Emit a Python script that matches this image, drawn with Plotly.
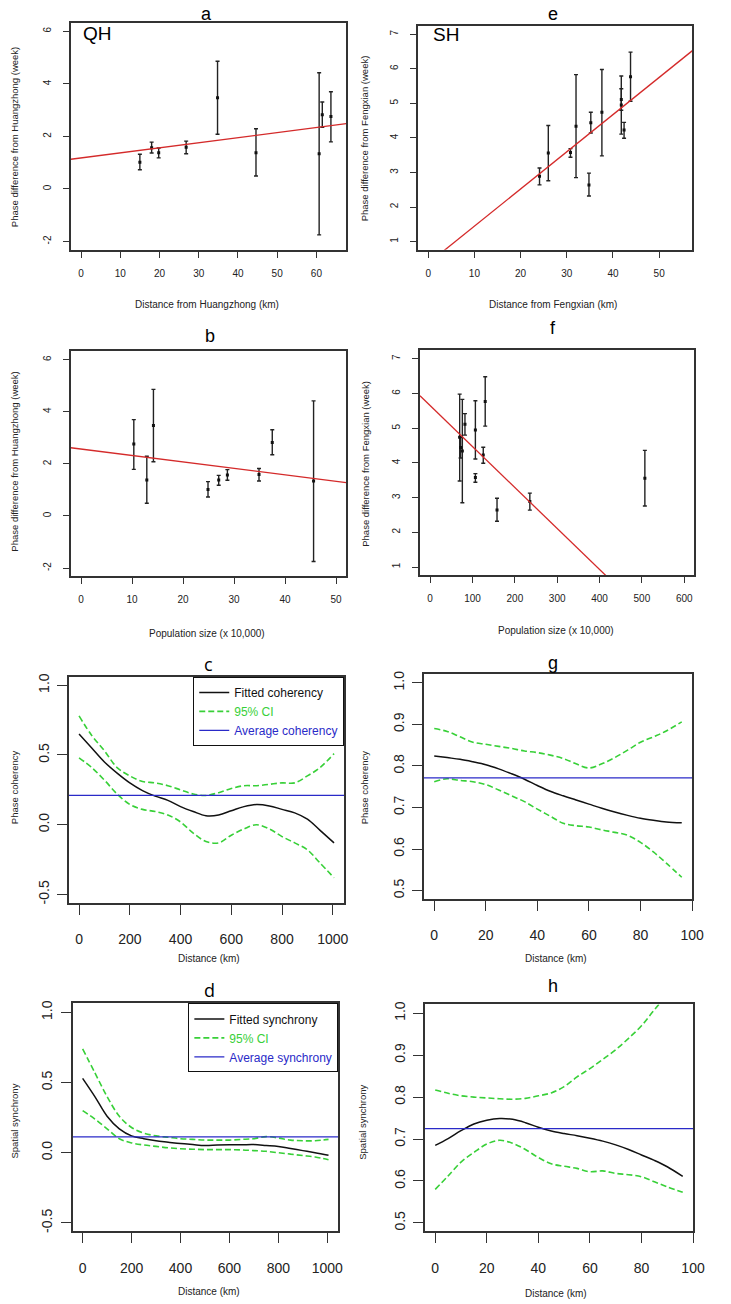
import plotly.graph_objects as go

W, H = 731, 1304
FONT = "Liberation Sans, Arial, sans-serif"

# ---------------- data ----------------
# QH towns (panel a = distance, panel b = population), same order in both
qh_dist = [15.0, 18.0, 19.8, 26.8, 34.8, 44.6, 60.7, 61.5, 63.7]
qh_pop = [24.9, 28.7, 27.0, 34.9, 14.2, 12.9, 45.6, 37.5, 10.35]
qh_phase = [1.02, 1.57, 1.38, 1.59, 3.47, 1.38, 1.34, 2.82, 2.76]
qh_lo = [0.73, 1.37, 1.18, 1.34, 2.08, 0.49, -1.75, 2.35, 1.79]
qh_hi = [1.32, 1.78, 1.56, 1.82, 4.86, 2.29, 4.42, 3.31, 3.70]
a_fit = [1.18, 0.0193]    # intercept, slope
b_fit = [2.57, -0.0248]

# SH towns (panel e = distance, panel f = population)
sh_dist = [24.1, 26.0, 30.8, 32.0, 34.8, 35.2, 37.6, 41.8, 41.8, 42.4, 43.8]
sh_pop = [235.4, 507.0, 106.8, 76.0, 157.9, 72.0, 69.7, 82.2, 106.8, 125.4, 130.0]
sh_phase = [2.89, 3.56, 3.58, 4.34, 2.64, 4.44, 4.74, 5.11, 4.95, 4.23, 5.77]
sh_lo = [2.64, 2.76, 3.44, 2.85, 2.32, 4.14, 3.48, 4.80, 4.11, 3.99, 5.06]
sh_hi = [3.13, 4.36, 3.69, 5.83, 2.98, 4.74, 5.98, 5.42, 5.79, 4.45, 6.48]
e_fit = [0.37, 0.1076]
f_fit = [5.65, -0.0118]

# QH coherency / synchrony vs distance
cd_dist = [0, 50, 100, 150, 200, 250, 300, 350, 400, 450, 500,
           550, 600, 650, 700, 750, 800, 850, 900, 950, 1005]
c_fit = [0.65, 0.55, 0.45, 0.37, 0.30, 0.245, 0.205, 0.175, 0.13, 0.095, 0.065,
         0.07, 0.10, 0.13, 0.145, 0.135, 0.11, 0.085, 0.04, -0.04, -0.13]
c_up = [0.78, 0.64, 0.53, 0.41, 0.35, 0.31, 0.30, 0.28, 0.25, 0.22, 0.21,
        0.23, 0.26, 0.28, 0.28, 0.29, 0.30, 0.30, 0.35, 0.41, 0.51]
c_low = [0.48, 0.41, 0.32, 0.22, 0.145, 0.11, 0.095, 0.07, 0.02, -0.06, -0.12,
         -0.13, -0.075, -0.03, 0.0, -0.03, -0.085, -0.13, -0.18, -0.275, -0.38]
c_avg = 0.21

d_fit = [0.53, 0.40, 0.26, 0.17, 0.12, 0.10, 0.085, 0.075, 0.065, 0.058, 0.052,
         0.055, 0.057, 0.057, 0.058, 0.052, 0.045, 0.03, 0.015, 0.0, -0.018]
d_up = [0.74, 0.57, 0.40, 0.26, 0.18, 0.14, 0.12, 0.11, 0.10, 0.095, 0.09,
        0.09, 0.09, 0.095, 0.10, 0.115, 0.105, 0.09, 0.085, 0.085, 0.095]
d_low = [0.30, 0.24, 0.17, 0.10, 0.07, 0.055, 0.045, 0.035, 0.028, 0.025, 0.022,
         0.022, 0.022, 0.02, 0.015, 0.01, 0.0, -0.01, -0.02, -0.03, -0.05]
d_avg = 0.113

# SH coherency / synchrony vs distance
gh_dist = [0, 5, 10, 15, 20, 25, 30, 35, 40, 45, 50,
           55, 60, 65, 70, 75, 80, 85, 90, 96]
g_fit = [0.824, 0.820, 0.816, 0.810, 0.803, 0.793, 0.781, 0.768, 0.753, 0.739, 0.728,
         0.718, 0.708, 0.698, 0.689, 0.681, 0.674, 0.669, 0.665, 0.663]
g_up = [0.890, 0.883, 0.870, 0.857, 0.852, 0.847, 0.842, 0.836, 0.832, 0.826, 0.818,
        0.805, 0.795, 0.805, 0.820, 0.838, 0.857, 0.870, 0.884, 0.906]
g_low = [0.762, 0.769, 0.765, 0.762, 0.755, 0.742, 0.728, 0.714, 0.696, 0.679, 0.662,
         0.656, 0.653, 0.646, 0.640, 0.633, 0.616, 0.593, 0.566, 0.532]
g_avg = 0.771

h_fit = [0.685, 0.701, 0.720, 0.736, 0.745, 0.749, 0.747, 0.739, 0.728, 0.719, 0.713,
         0.708, 0.702, 0.695, 0.686, 0.675, 0.662, 0.649, 0.634, 0.611]
h_up = [0.817, 0.809, 0.803, 0.800, 0.798, 0.796, 0.795, 0.797, 0.803, 0.810, 0.825,
        0.848, 0.868, 0.890, 0.913, 0.940, 0.970, 1.008, 1.045, 1.09]
h_low = [0.580, 0.612, 0.645, 0.668, 0.688, 0.697, 0.690, 0.675, 0.656, 0.641, 0.635,
         0.630, 0.622, 0.624, 0.618, 0.615, 0.610, 0.598, 0.586, 0.573]
h_avg = 0.725

RED = "#d42a2a"
GREEN = "#38d038"
BLUE = "#2a2ac8"
BOX = "#333333"

# panel boxes in pixels: left, top, right, bottom
panels = {
    1: dict(box=(72, 19, 352, 247), xr=[-2.6, 67.6], yr=[-2.32, 6.32],
            xt=[0, 10, 20, 30, 40, 50, 60], yt=[-2, 0, 2, 4, 6], big=False),
    2: dict(box=(425, 22, 704, 247), xr=[-2.2, 57.2], yr=[0.76, 7.24],
            xt=[0, 10, 20, 30, 40, 50], yt=[1, 2, 3, 4, 5, 6, 7], big=False),
    3: dict(box=(72, 349, 352, 575), xr=[-2, 52], yr=[-2.32, 6.32],
            xt=[0, 10, 20, 30, 40, 50], yt=[-2, 0, 2, 4, 6], big=False),
    4: dict(box=(427, 348, 706, 574), xr=[-24, 624], yr=[0.76, 7.24],
            xt=[0, 100, 200, 300, 400, 500, 600], yt=[1, 2, 3, 4, 5, 6, 7], big=False),
    5: dict(box=(70, 676, 350, 903), xr=[-40.2, 1045.2], yr=[-0.56, 1.06],
            xt=[0, 200, 400, 600, 800, 1000], yt=[-0.5, 0.0, 0.5, 1.0], big=True),
    6: dict(box=(431, 673, 704, 899), xr=[-4.0, 100.15], yr=[0.48, 1.0215],
            xt=[0, 20, 40, 60, 80, 100], yt=[0.5, 0.6, 0.7, 0.8, 0.9, 1.0], big=True),
    7: dict(box=(74, 1004, 344, 1233), xr=[-40.2, 1045.2], yr=[-0.56, 1.064],
            xt=[0, 200, 400, 600, 800, 1000], yt=[-0.5, 0.0, 0.5, 1.0], big=True),
    8: dict(box=(432, 1005, 705, 1233), xr=[-4.0, 100.15], yr=[0.48, 1.021],
            xt=[0, 20, 40, 60, 80, 100], yt=[0.5, 0.6, 0.7, 0.8, 0.9, 1.0], big=True),
}


def ax_names(n):
    return ("x" if n == 1 else f"x{n}"), ("y" if n == 1 else f"y{n}")


fig = go.Figure()


def add_errbars(n, xs, ys, lo, hi, fit):
    xa, ya = ax_names(n)
    fig.add_trace(go.Scatter(
        x=xs, y=ys, mode="markers", xaxis=xa, yaxis=ya, showlegend=False,
        marker=dict(symbol="square", size=3, color="#111"),
        error_y=dict(type="data", symmetric=False,
                     array=[h - y for h, y in zip(hi, ys)],
                     arrayminus=[y - l for y, l in zip(ys, lo)],
                     width=2, thickness=1.4, color="#222"),
    ))
    xr = panels[n]["xr"]
    fig.add_trace(go.Scatter(
        x=xr, y=[fit[0] + fit[1] * v for v in xr], mode="lines",
        xaxis=xa, yaxis=ya, showlegend=False,
        line=dict(color=RED, width=1.3),
    ))


def add_curves(n, xs, fit, up, low, avg, word, leg):
    xa, ya = ax_names(n)
    xr = panels[n]["xr"]
    show = leg is not None
    kw = dict(legend=leg) if show else {}
    fig.add_trace(go.Scatter(
        x=xs, y=fit, mode="lines", xaxis=xa, yaxis=ya, showlegend=show,
        name="Fitted " + word, line=dict(color="#111", width=1.5, shape="spline"),
        **kw))
    fig.add_trace(go.Scatter(
        x=xs, y=up, mode="lines", xaxis=xa, yaxis=ya, showlegend=show,
        name=f'<span style="color:{GREEN}">95% CI</span>',
        line=dict(color=GREEN, width=1.6, dash="6px,3px", shape="spline"),
        **kw))
    fig.add_trace(go.Scatter(
        x=xs, y=low, mode="lines", xaxis=xa, yaxis=ya, showlegend=False,
        line=dict(color=GREEN, width=1.6, dash="6px,3px", shape="spline"),
        **kw))
    fig.add_trace(go.Scatter(
        x=xr, y=[avg, avg], mode="lines", xaxis=xa, yaxis=ya, showlegend=show,
        name=f'<span style="color:{BLUE}">Average {word}</span>',
        line=dict(color=BLUE, width=1.3),
        **kw))


add_errbars(1, qh_dist, qh_phase, qh_lo, qh_hi, a_fit)
add_errbars(2, sh_dist, sh_phase, sh_lo, sh_hi, e_fit)
add_errbars(3, qh_pop, qh_phase, qh_lo, qh_hi, b_fit)
add_errbars(4, sh_pop, sh_phase, sh_lo, sh_hi, f_fit)
add_curves(5, cd_dist, c_fit, c_up, c_low, c_avg, "coherency", "legend")
add_curves(6, gh_dist, g_fit, g_up, g_low, g_avg, "coherency", None)
add_curves(7, cd_dist, d_fit, d_up, d_low, d_avg, "synchrony", "legend2")
add_curves(8, gh_dist, h_fit, h_up, h_low, h_avg, "synchrony", None)

layout = {}
for n, p in panels.items():
    l, t, r, b = p["box"]
    big = p["big"]
    fs = 14 if big else 10
    tl = 10 if big else 6
    xa, ya = ax_names(n)
    if big:
        ytext = [f"{v:.1f}" for v in p["yt"]]
    else:
        ytext = [str(v) for v in p["yt"]]
    common = dict(showline=True, mirror=True, linecolor=BOX, linewidth=1.5,
                  ticks="outside", ticklen=tl, tickwidth=1.2, tickcolor=BOX,
                  showgrid=False, zeroline=False, tickmode="array",
                  tickfont=dict(family=FONT, size=fs, color="#222"))
    layout["xaxis" if n == 1 else f"xaxis{n}"] = dict(
        common, domain=[l / W, r / W], range=p["xr"], anchor=ya,
        tickvals=p["xt"], ticktext=[str(v) for v in p["xt"]],
        ticklabelstandoff=13 if big else 7)
    layout["yaxis" if n == 1 else f"yaxis{n}"] = dict(
        common, domain=[1 - b / H, 1 - t / H], range=p["yr"], anchor=xa,
        tickvals=p["yt"], ticktext=ytext, tickangle=-90,
        ticklabelstandoff=3 if big else 8)


def note(text, x, y, size=10, angle=0, family=FONT, color="#222"):
    return dict(text=text, x=x / W, y=1 - y / H, xref="paper", yref="paper",
                showarrow=False, xanchor="center", yanchor="middle",
                textangle=angle, font=dict(family=family, size=size, color=color))


notes = [
    note("a", 210, 10, 18, color="#000"),
    note("e", 562, 10.5, 18, color="#000"),
    note("b", 213, 334, 18, color="#000"),
    note("f", 562, 325, 18, color="#000"),
    note("c", 212, 663, 18, family="Open Sans, sans-serif", color="#000"),
    note("g", 562, 662, 18, color="#000"),
    note("d", 213, 991, 18, family="Open Sans, sans-serif", color="#000"),
    note("h", 562, 987, 18, color="#000"),
    note("QH", 99, 30, 19, color="#000"),
    note("SH", 453, 31, 19, color="#000"),
    note("Distance from Huangzhong (km)", 210, 302),
    note("Distance from Fengxian (km)", 562, 302),
    note("Population size (x 10,000)", 210, 632),
    note("Population size (x 10,000)", 565, 629),
    note("Distance (km)", 212, 959),
    note("Distance (km)", 565, 959),
    note("Distance (km)", 212, 1293),
    note("Distance (km)", 565, 1295),
    note("Phase difference from Huangzhong (week)", 15, 134, 9.5, -90),
    note("Phase difference from Fengxian (week)", 370, 135, 9.5, -90),
    note("Phase difference from Huangzhong (week)", 15, 460, 9.5, -90),
    note("Phase difference from Fengxian (week)", 372, 462, 9.5, -90),
    note("Phase coherency", 15, 787, 9.5, -90),
    note("Phase coherency", 370, 787, 9.5, -90),
    note("Spatial synchrony", 15, 1122, 9.5, -90),
    note("Spatial synchrony", 369, 1123, 9.5, -90),
]

leg_style = dict(xanchor="right", yanchor="top", bgcolor="white",
                 bordercolor="#111", borderwidth=1, itemwidth=30,
                 font=dict(family=FONT, size=12, color="#111"),
                 tracegroupgap=0)

layout.update(
    width=W, height=H, margin=dict(l=0, r=0, t=0, b=0),
    paper_bgcolor="white", plot_bgcolor="white",
    annotations=notes,
    legend=dict(leg_style, x=350 / W, y=1 - 676 / H),
    legend2=dict(leg_style, x=344 / W, y=1 - 1004 / H),
)
fig.update_layout(**layout)

# the page's default body margin would push the figure 8px down and right
fig.write_html("out.html", config={"displayModeBar": False},
               post_script="document.body.style.margin='0';document.body.style.overflow='hidden';")
